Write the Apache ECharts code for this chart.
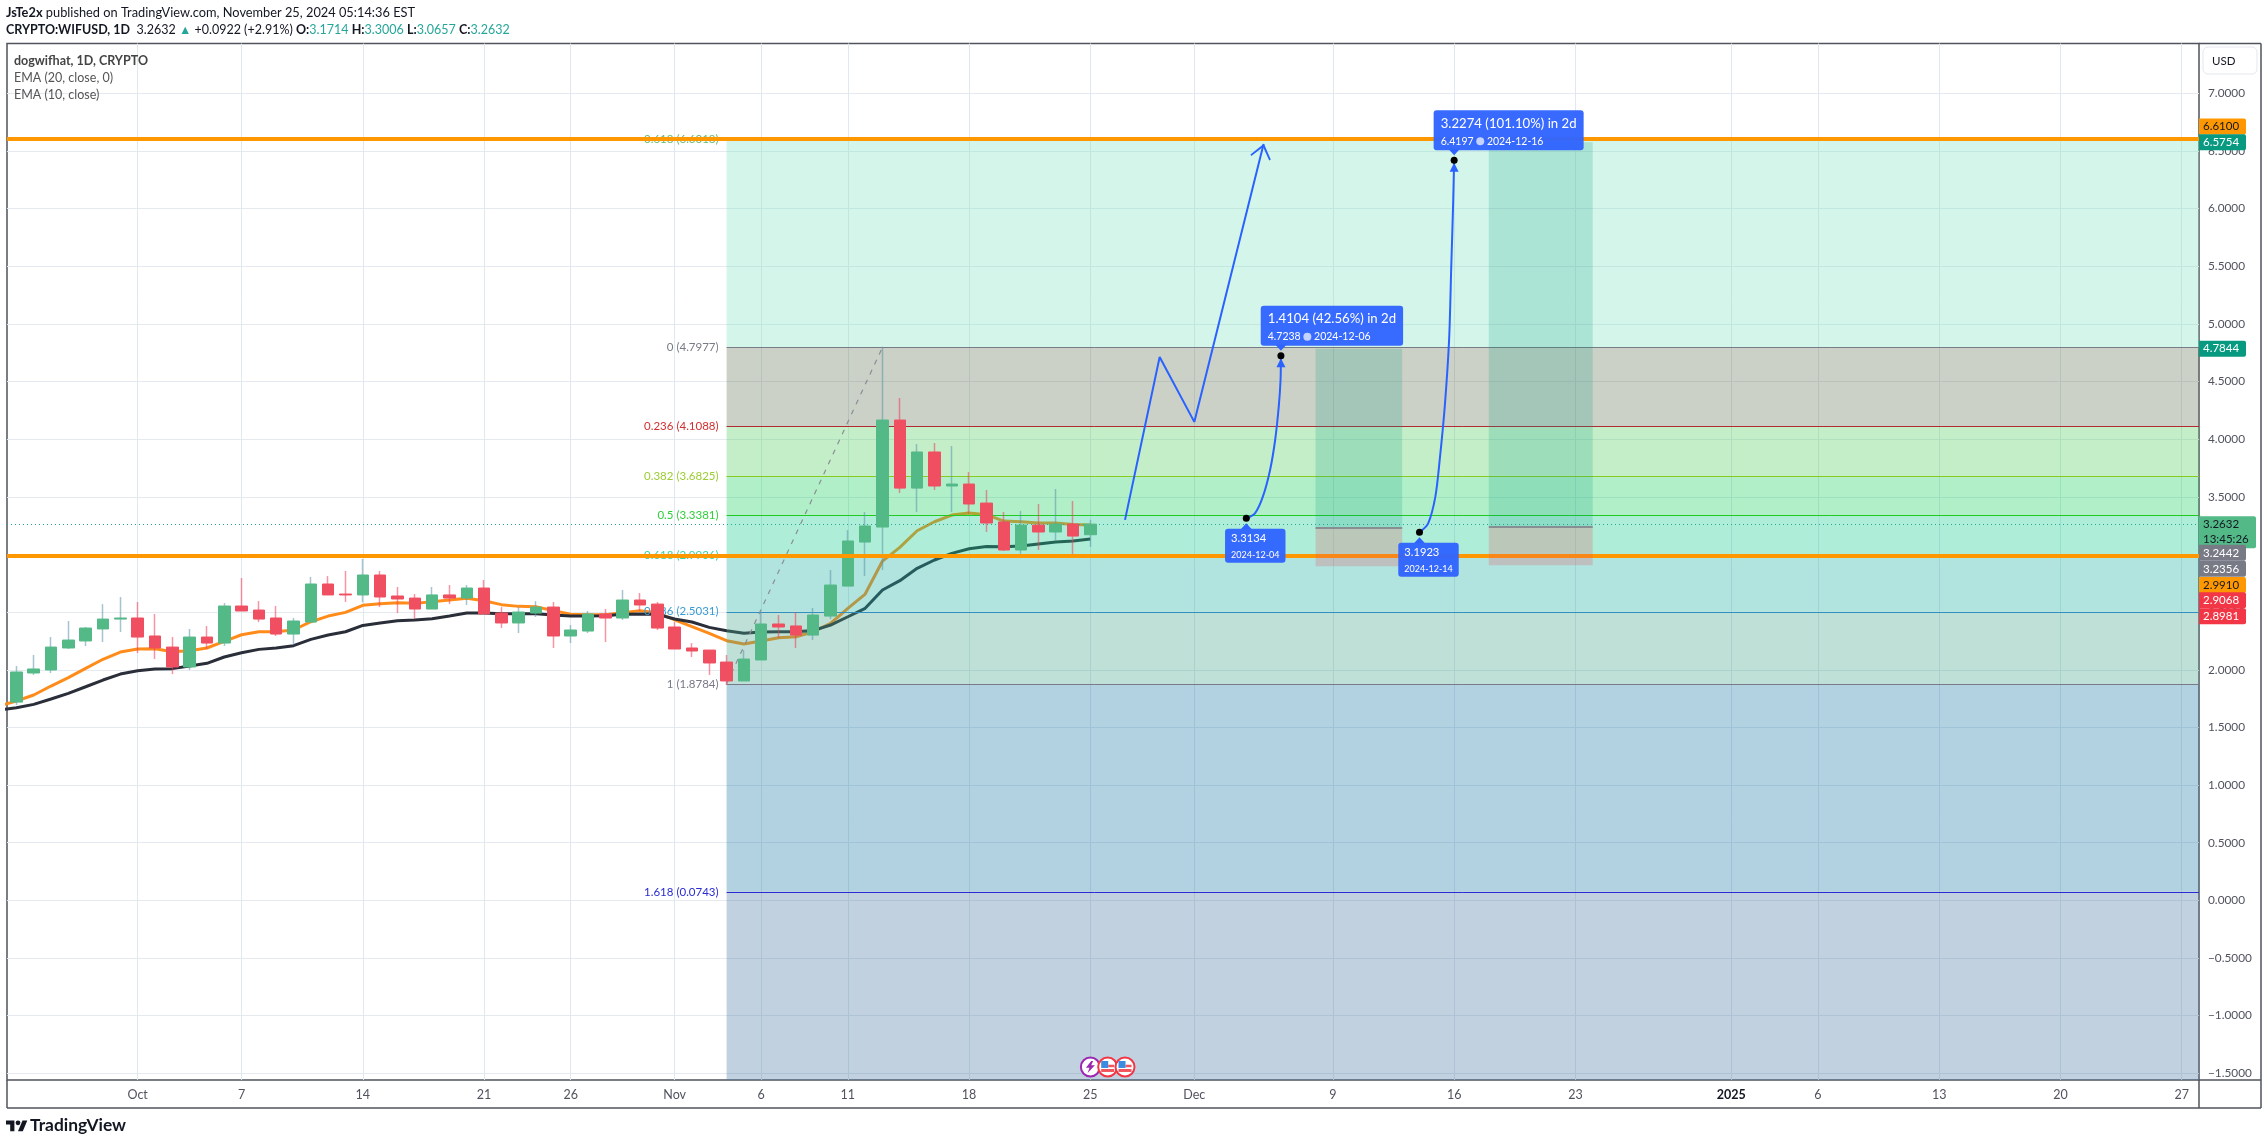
<!DOCTYPE html>
<html>
<head>
<meta charset="utf-8">
<title>WIFUSD 1D</title>
<script src="https://cdn.jsdelivr.net/npm/echarts@6/dist/echarts.min.js"></script>
<style>
html,body{margin:0;padding:0;background:#fff;}
#main{width:2268px;height:1145px;}
</style>
</head>
<body>
<div id="main"></div>
<script>
// candles, daily from 2024-09-24
var candleStart = [2024, 8, 24];
var opens = [1.720,1.972,1.998,2.189,2.250,2.354,2.440,
  2.449,2.293,2.197,2.024,2.284,2.232,2.553,2.518,2.449,2.310,2.414,2.744,2.657,2.649,2.822,2.640,2.622,2.527,2.649,2.622,2.709,2.492,2.406,2.492,2.544,2.293,2.336,2.484,2.449,2.605,2.570,
  2.371,2.189,2.171,2.067,1.903,2.085,2.397,2.380,2.301,2.466,2.726,3.108,3.238,4.166,3.576,3.889,3.594,3.611,3.446,3.282,3.039,3.255,3.195,3.264,3.1714];
var closes = [1.981,2.007,2.197,2.258,2.362,2.440,2.449,
  2.284,2.189,2.024,2.284,2.232,2.553,2.510,2.440,2.310,2.423,2.744,2.649,2.649,2.822,2.631,2.614,2.527,2.649,2.622,2.709,2.484,2.406,2.501,2.544,2.293,2.345,2.484,2.449,2.605,2.562,2.362,
  2.180,2.163,2.059,1.903,2.093,2.397,2.371,2.301,2.475,2.735,3.117,3.247,4.166,3.576,3.889,3.594,3.611,3.438,3.273,3.039,3.255,3.195,3.264,3.160,3.2632];
var lows = [1.694,1.955,1.972,2.180,2.206,2.241,2.328,
  2.145,2.093,1.963,1.998,2.180,2.206,2.510,2.414,2.293,2.215,2.414,2.649,2.588,2.585,2.544,2.492,2.440,2.527,2.570,2.562,2.484,2.362,2.319,2.458,2.189,2.232,2.319,2.241,2.432,2.510,2.345,
  2.180,2.111,1.955,1.868,1.903,2.085,2.275,2.189,2.258,2.440,2.726,2.813,2.865,3.533,3.368,3.559,3.368,3.351,3.195,3.030,2.969,3.039,3.125,3.004,3.0657];
var highs = [2.033,2.128,2.284,2.423,2.371,2.570,2.631,
  2.588,2.484,2.284,2.354,2.380,2.579,2.796,2.596,2.553,2.449,2.805,2.813,2.857,2.961,2.857,2.718,2.657,2.718,2.735,2.735,2.779,2.544,2.544,2.596,2.588,2.388,2.510,2.527,2.692,2.666,2.588,
  2.414,2.232,2.171,2.128,2.171,2.501,2.475,2.501,2.536,2.865,3.212,3.368,4.802,4.357,3.958,3.967,3.941,3.715,3.559,3.368,3.377,3.438,3.568,3.464,3.3006];

// ema lines, these start one day earlier (2024-09-23)
var emaStart = [2024, 8, 23];
var emaFast = [1.686,1.729,1.781,1.859,1.932,2.012,2.091,2.154,
  2.180,2.183,2.157,2.166,2.189,2.247,2.304,2.330,2.330,2.345,2.417,2.466,2.498,2.559,2.573,2.582,2.576,2.591,2.605,2.620,2.599,2.565,2.550,2.547,2.513,2.481,2.478,2.478,2.495,2.513,2.495,
  2.432,2.374,2.316,2.252,2.223,2.250,2.278,2.287,2.330,2.403,2.533,2.657,2.943,3.062,3.206,3.284,3.342,3.360,3.345,3.290,3.284,3.273,3.273,3.261,3.255];
var emaSlow = [1.651,1.671,1.700,1.747,1.796,1.853,1.911,1.963,
  1.992,2.007,2.010,2.033,2.056,2.111,2.148,2.177,2.189,2.209,2.264,2.302,2.330,2.385,2.406,2.426,2.432,2.443,2.466,2.492,2.492,2.487,2.487,2.487,2.475,2.466,2.466,2.469,2.481,2.484,2.481,
  2.440,2.414,2.368,2.339,2.316,2.328,2.330,2.330,2.340,2.388,2.460,2.533,2.692,2.773,2.880,2.952,3.010,3.050,3.070,3.068,3.073,3.091,3.108,3.117,3.134];

// axis
var tickDates = ['2024-10-01','2024-10-07','2024-10-14','2024-10-21','2024-10-26','2024-11-01','2024-11-06','2024-11-11','2024-11-18','2024-11-25','2024-12-01','2024-12-09','2024-12-16','2024-12-23','2025-01-01','2025-01-06','2025-01-13','2025-01-20','2025-01-27'];
var tickLabels = ['Oct','7','14','21','26','Nov','6','11','18','25','Dec','9','16','23','{y|2025}','6','13','20','27'];
var priceTicks = [-1.5,-1,-0.5,0,0.5,1,1.5,2,2.5,3,3.5,4,4.5,5,5.5,6,6.5,7];

// fib retracement
var fibStart = '2024-11-04';
var fibRatios = [-0.618,0,0.236,0.382,0.5,0.618,0.786,1,1.618];
var fibPrices = [6.6018,4.7977,4.1088,3.6825,3.3381,2.9936,2.5031,1.8784,0.0743];
var fibLine = ['#66bb6a','#787b86','#b22833','#8cc91f','#1ecb1e','#26c6a0','#2f8fbf','#787b86','#2b2bd4'];
var fibText = ['#66bb6a','#787b86','#d32f2f','#9ccc32','#2fcf3c','#3ad29a','#3a9bd4','#787b86','#2b2bd4'];
var fibFill = ['rgba(132,226,192,.35)','rgba(107,124,92,.35)','rgba(84,206,98,.35)','rgba(29,209,98,.35)','rgba(24,206,144,.35)','rgba(32,178,164,.35)','rgba(69,166,138,.35)','rgba(35,124,169,.35)','rgba(78,124,166,.35)'];

// hand drawn
var zigDates = ['2024-11-27','2024-11-29','2024-12-01','2024-12-05'];
var zigPrices = [3.30,4.713,4.15,6.56];
var curve1Dates = ['2024-12-04','2024-12-04 12:00','2024-12-04 23:00','2024-12-05 09:00','2024-12-05 16:00','2024-12-05 21:00','2024-12-05 23:30','2024-12-06'];
var curve1Prices = [3.3134,3.357,3.502,3.733,3.993,4.282,4.513,4.7238];
var curve2Dates = ['2024-12-14','2024-12-14 12:00','2024-12-14 22:00','2024-12-15 04:00','2024-12-15 11:00','2024-12-15 17:00','2024-12-15 20:00','2024-12-15 22:30','2024-12-16'];
var curve2Prices = [3.1923,3.270,3.502,3.820,4.282,4.860,5.496,6.017,6.4197];
var curve1Top = '1.4104 (42.56%) in 2d', curve2Top = '3.2274 (101.10%) in 2d';

// long position boxes
var boxStart = ['2024-12-08','2024-12-18'];
var boxEnd = ['2024-12-13','2024-12-24'];
var boxTarget = [4.7844,6.5754];
var boxEntry = [3.2356,3.2442];
var boxStop = [2.8981,2.9068];

var hLevels = [6.61,2.991];
var lastPrice = 3.2632;
var tagPrices = [6.61,6.5754,4.7844,3.2632,3.2442,3.2356,2.991,2.9068,2.8981];
var eventDates = ['2024-11-25','2024-11-26','2024-11-27'];

var t = function (s) { return +echarts.number.parseDate(s); };
var xMin = t('2024-09-23 11:00'), xMax = t('2025-01-28');
var yMin = -1.558, yMax = 7.432;
var eventLevel = -1.445;

var wicks = [], bodies = [], i;
for (i = 0; i < opens.length; i++) {
  var d = +new Date(candleStart[0], candleStart[1], candleStart[2] + i);
  wicks.push([d, opens[i], closes[i], lows[i], highs[i]]);
  bodies.push([d, opens[i], closes[i], Math.min(opens[i], closes[i]), Math.max(opens[i], closes[i])]);
}
function emaPoints(arr) {
  return arr.map(function (v, n) { return [+new Date(emaStart[0], emaStart[1], emaStart[2] + n), v]; });
}
function pts(dates, prices) {
  return dates.map(function (s, n) { return [t(s), prices[n]]; });
}

var labelMap = {};
tickDates.forEach(function (s, n) { labelMap[t(s)] = tickLabels[n]; });
var tickTimes = tickDates.map(t);

// fib zones and lines
var fibAreas = [], fibMarks = [];
fibPrices.forEach(function (p, n) {
  var low = n + 1 < fibPrices.length ? fibPrices[n + 1] : yMin;
  fibAreas.push([{ coord: [t(fibStart), p], itemStyle: { color: fibFill[n] } }, { coord: [xMax, low] }]);
  fibMarks.push([{
    coord: [t(fibStart), p],
    lineStyle: { color: fibLine[n], width: 1, type: 'solid' },
    label: { show: true, position: 'start', distance: 8, color: fibText[n], fontSize: 11.5, fontFamily: 'Lato',
      formatter: fibRatios[n] + ' (' + p.toFixed(4) + ')' }
  }, { coord: [xMax, p] }]);
});

// position boxes
var boxAreas = [], boxLines = [];
boxStart.forEach(function (s, n) {
  boxAreas.push([{ coord: [t(s), boxTarget[n]], itemStyle: { color: 'rgba(8,153,129,.2)' } }, { coord: [t(boxEnd[n]), boxEntry[n]] }]);
  boxAreas.push([{ coord: [t(s), boxEntry[n]], itemStyle: { color: 'rgba(229,84,91,.25)' } }, { coord: [t(boxEnd[n]), boxStop[n]] }]);
  boxLines.push([{ coord: [t(s), boxEntry[n]] }, { coord: [t(boxEnd[n]), boxEntry[n]] }]);
});

var calloutRich = {
  a: { color: '#fff', fontSize: 13.2, fontFamily: 'Lato', lineHeight: 21, align: 'left' },
  b: { color: '#fff', fontSize: 10.5, fontFamily: 'Lato', lineHeight: 14, align: 'left' },
  a2: { color: '#fff', fontSize: 11.2, fontFamily: 'Lato', lineHeight: 18, align: 'left' },
  b2: { color: '#fff', fontSize: 9, fontFamily: 'Lato', lineHeight: 14, align: 'left' },
  clock: { width: 8, height: 8, borderRadius: 4, backgroundColor: '#c3d2ff', fontSize: 6, align: 'left' }
};
function callout(date, price, text, offset, pad) {
  return {
    value: [t(date), price],
    label: {
      show: true, position: offset[1] < 0 ? 'top' : 'bottom', offset: offset, distance: 0,
      backgroundColor: 'rgba(48,100,255,.96)', borderRadius: 3, padding: pad,
      formatter: text, rich: calloutRich, align: 'center'
    }
  };
}

var tagStyles = [
  { bg: '#ff9800', fg: '#131722', dy: -11.7 }, { bg: '#089981', fg: '#fff', dy: 0 }, { bg: '#089981', fg: '#fff', dy: 0 },
  { bg: '#53b987', fg: '#131722', dy: 8, extra: '13:45:26', w: 53 },
  { bg: '#787b86', fg: '#fff', dy: 26.5 }, { bg: '#787b86', fg: '#fff', dy: 41.5 },
  { bg: '#ff9800', fg: '#131722', dy: 29.5 },
  { bg: '#f23645', fg: '#fff', dy: 35 }, { bg: '#f23645', fg: '#fff', dy: 50 }
];
var tagData = tagPrices.map(function (p, n) {
  var st = tagStyles[n];
  return {
    value: [xMax, p],
    label: {
      show: true, position: 'right', distance: 0, offset: [0, st.dy],
      backgroundColor: st.bg, color: st.fg, borderRadius: [0, 2, 2, 0],
      width: st.w || 43, padding: [st.extra ? 1 : 2, 0, st.extra ? 1 : 2, 4], lineHeight: st.extra ? 15 : 12,
      fontSize: 11.5, fontFamily: 'Lato', align: 'left',
      formatter: p.toFixed(4) + (st.extra ? '\n' + st.extra : '')
    }
  };
});

var chart = echarts.init(document.getElementById('main'), null, { renderer: 'canvas' });
chart.setOption({
  animation: false,
  backgroundColor: '#fff',
  title: [
    { left: 6, top: 6, padding: 0, text: '{b|JsTe2x} published on TradingView.com, November 25, 2024 05:14:36 EST',
      textStyle: { color: '#131722', fontSize: 12.8, fontWeight: 'normal', fontFamily: 'Lato', rich: { b: { fontWeight: 'bold', fontSize: 12.8, fontFamily: 'Lato', color: '#131722' } } } },
    { left: 6, top: 23, padding: 0, text: '{b|CRYPTO:WIFUSD, 1D}  3.2632 {g|▲} +0.0922 (+2.91%) {b|O:}{g|3.1714} {b|H:}{g|3.3006} {b|L:}{g|3.0657} {b|C:}{g|3.2632}',
      textStyle: { color: '#131722', fontSize: 12.5, fontWeight: 'normal', fontFamily: 'Lato', rich: {
        b: { fontWeight: 'bold', fontSize: 12.5, fontFamily: 'Lato', color: '#131722' },
        g: { color: '#26a69a', fontSize: 12.5, fontFamily: 'Lato' } } } },
    { left: 14, top: 54, padding: 0, text: 'dogwifhat, 1D, CRYPTO', textStyle: { color: '#444', fontSize: 12.5, fontWeight: 'bold', fontFamily: 'Lato' } },
    { left: 14, top: 71, padding: 0, text: 'EMA (20, close, 0)', textStyle: { color: '#555', fontSize: 12.5, fontWeight: 'normal', fontFamily: 'Lato' } },
    { left: 14, top: 88, padding: 0, text: 'EMA (10, close)', textStyle: { color: '#555', fontSize: 12.5, fontWeight: 'normal', fontFamily: 'Lato' } }
  ],
  grid: { left: 7, top: 43.5, width: 2192, height: 1036.5, show: true, borderColor: '#50535e', borderWidth: 1.5, backgroundColor: 'transparent' },
  xAxis: {
    type: 'value', min: xMin, max: xMax,
    axisLine: { show: false },
    axisTick: { show: false, customValues: tickTimes },
    splitLine: { show: true, lineStyle: { color: '#e0e8ef', width: 1 } },
    axisLabel: {
      customValues: tickTimes, margin: 8, color: '#50535e', fontSize: 12.5, fontFamily: 'Lato', hideOverlap: false,
      formatter: function (v) { return labelMap[v] || ''; },
      rich: { y: { fontWeight: 'bold', color: '#131722', fontSize: 12.5, fontFamily: 'Lato' } }
    }
  },
  yAxis: {
    type: 'value', position: 'right', min: yMin, max: yMax, scale: true,
    axisLine: { show: false },
    axisTick: { show: false, customValues: priceTicks },
    splitLine: { show: true, lineStyle: { color: '#e4eaf0', width: 1 } },
    axisLabel: {
      customValues: priceTicks, margin: 9, color: '#50535e', fontSize: 11.8, fontFamily: 'Lato',
      formatter: function (v) { return v.toFixed(4).replace('-', '−'); }
    }
  },
  graphic: [
    // outer frame of the chart, axis strip on the right and below
    { type: 'line', silent: true, z: 20, shape: { x1: 2199, y1: 43.5, x2: 2261, y2: 43.5 }, style: { stroke: '#50535e', lineWidth: 1.5 } },
    { type: 'line', silent: true, z: 20, shape: { x1: 2261, y1: 43.5, x2: 2261, y2: 1108 }, style: { stroke: '#50535e', lineWidth: 1.5 } },
    { type: 'line', silent: true, z: 20, shape: { x1: 2199, y1: 1080, x2: 2261, y2: 1080 }, style: { stroke: '#50535e', lineWidth: 1.5 } },
    { type: 'line', silent: true, z: 20, shape: { x1: 2199, y1: 1080, x2: 2199, y2: 1108 }, style: { stroke: '#50535e', lineWidth: 1.5 } },
    { type: 'line', silent: true, z: 20, shape: { x1: 7, y1: 1080, x2: 7, y2: 1108 }, style: { stroke: '#50535e', lineWidth: 1.5 } },
    { type: 'line', silent: true, z: 20, shape: { x1: 7, y1: 1108, x2: 2261, y2: 1108 }, style: { stroke: '#50535e', lineWidth: 1.5 } },
    // USD button
    { type: 'rect', silent: true, z: 20, shape: { x: 2203, y: 47, width: 54, height: 27, r: 5 }, style: { fill: '#fff', stroke: '#e4e7ef', lineWidth: 1 } },
    { type: 'text', silent: true, z: 21, style: { x: 2212, y: 55, text: 'USD', fill: '#131722', font: '11.5px Lato' } },
    // TradingView logo
    { type: 'polygon', silent: true, z: 20, shape: { points: [[14.4,1131.2],[10.2,1131.2],[10.2,1124.6],[6,1124.6],[6,1120.4],[14.4,1120.4]] }, style: { fill: '#131722' } },
    { type: 'polygon', silent: true, z: 20, shape: { points: [[22.8,1131.2],[18,1131.2],[22.5,1120.4],[27.3,1120.4]] }, style: { fill: '#131722' } },
    { type: 'circle', silent: true, z: 20, shape: { cx: 18, cy: 1122.8, r: 2.4 }, style: { fill: '#131722' } },
    { type: 'text', silent: true, z: 20, style: { x: 30, y: 1117, text: 'TradingView', fill: '#131722', font: 'bold 17.4px Lato' } }
  ],
  series: [
    { name: 'EMA fast', type: 'line', z: 2, data: emaPoints(emaFast), showSymbol: false, clip: true, silent: true,
      lineStyle: { color: '#ff8c1a', width: 3 } },
    { name: 'EMA slow', type: 'line', z: 2, data: emaPoints(emaSlow), showSymbol: false, clip: true, silent: true,
      lineStyle: { color: '#2a2e39', width: 3 } },

    // fib zones + levels
    { name: 'fib', type: 'line', z: 3, data: [], silent: true,
      markArea: { silent: true, z: 3, data: fibAreas },
      markLine: { silent: true, z: 3, symbol: 'none', data: fibMarks } },
    { name: 'last', type: 'line', z: 3, data: [], silent: true,
      markLine: { silent: true, z: 3, symbol: 'none', label: { show: false },
        lineStyle: { color: '#26a69a', type: [1, 3], width: 1 },
        data: [[{ coord: [xMin, lastPrice] }, { coord: [xMax, lastPrice] }]] } },
    { name: 'fib trend', type: 'line', z: 3, data: [[t(fibStart), fibPrices[7]], [t('2024-11-13'), fibPrices[1]]], showSymbol: false, silent: true,
      lineStyle: { color: '#8a8d96', type: [5, 6], width: 1.2 } },

    // candles: thin translucent wicks below, opaque bodies above
    { name: 'wicks', type: 'candlestick', z: 4, barWidth: 1, data: wicks, silent: true,
      itemStyle: { color: 'transparent', color0: 'transparent', borderColor: 'rgba(90,150,170,.55)', borderColor0: 'rgba(240,60,90,.55)', borderWidth: 1.5 } },
    { name: 'bodies', type: 'candlestick', z: 5, barWidth: 12, data: bodies, silent: true,
      itemStyle: { color: '#53b987', color0: '#ef4f60', borderColor: '#53b987', borderColor0: '#ef4f60', borderWidth: 1 } },

    // orange support / resistance
    { name: 'levels', type: 'line', z: 6, data: [], silent: true,
      markLine: { silent: true, z: 6, symbol: 'none', label: { show: false },
        lineStyle: { color: '#ff9800', width: 4, type: 'solid' },
        data: hLevels.map(function (p) { return [{ coord: [xMin, p] }, { coord: [xMax, p] }]; }) } },

    // long position boxes
    { name: 'boxes', type: 'line', z: 7, data: [], silent: true,
      markArea: { silent: true, z: 7, data: boxAreas },
      markLine: { silent: true, z: 7, symbol: 'none', label: { show: false },
        lineStyle: { color: '#787b86', width: 1.5, type: 'solid' }, data: boxLines } },

    // drawings
    { name: 'zigzag', type: 'line', z: 8, data: pts(zigDates, zigPrices), showSymbol: false, silent: true,
      lineStyle: { color: '#2962ff', width: 2 } },
    { name: 'zig arrow', type: 'scatter', z: 8, silent: true, data: [[t(zigDates[3]), zigPrices[3]]],
      symbol: 'path://M0 0 L10 12 L8.8 13.2 L0 3 L-8.8 13.2 L-10 12 Z', symbolSize: [21, 15], symbolKeepAspect: false,
      symbolRotate: -14, symbolOffset: [-1.5, 7], itemStyle: { color: '#2962ff', opacity: 1 } },
    { name: 'curve 1', type: 'line', z: 8, smooth: 0.3, data: pts(curve1Dates, curve1Prices), showSymbol: false, silent: true,
      lineStyle: { color: '#2962ff', width: 2 } },
    { name: 'curve 2', type: 'line', z: 8, smooth: 0.3, data: pts(curve2Dates, curve2Prices), showSymbol: false, silent: true,
      lineStyle: { color: '#2962ff', width: 2 } },
    { name: 'curve heads', type: 'scatter', z: 8, silent: true, symbol: 'triangle', symbolSize: [9, 9], symbolOffset: [0, 7],
      data: [[t(curve1Dates[7]), curve1Prices[7]], [t(curve2Dates[8]), curve2Prices[8]]], itemStyle: { color: '#2962ff', opacity: 1 } },

    // callout tips, dots, callouts
    { name: 'tips up', type: 'scatter', z: 9, silent: true, symbol: 'triangle', symbolSize: [11, 6], symbolOffset: [0, 8],
      data: [[t(curve1Dates[0]), curve1Prices[0]], [t(curve2Dates[0]), curve2Prices[0]]], itemStyle: { color: '#3064ff', opacity: 1 } },
    { name: 'tips down', type: 'scatter', z: 9, silent: true, symbol: 'triangle', symbolRotate: 180, symbolSize: [11, 6], symbolOffset: [0, -8],
      data: [[t(curve1Dates[7]), curve1Prices[7]], [t(curve2Dates[8]), curve2Prices[8]]], itemStyle: { color: '#3064ff', opacity: 1 } },
    { name: 'dots', type: 'scatter', z: 10, silent: true, symbolSize: 7,
      itemStyle: { color: '#000', opacity: 1 },
      data: [
        callout(curve1Dates[0], curve1Prices[0], '{a2|' + curve1Prices[0].toFixed(4) + '}\n{b2|2024-12-04}', [9, 7], [1, 6, 1, 6]),
        callout(curve1Dates[7], curve1Prices[7], '{a|' + curve1Top + '}\n{b|' + curve1Prices[7].toFixed(4) + ' }{clock| }{b| 2024-12-06}', [51, -6.5], [3, 7, 2, 7]),
        callout(curve2Dates[0], curve2Prices[0], '{a2|' + curve2Prices[0].toFixed(4) + '}\n{b2|2024-12-14}', [9, 7], [1, 6, 1, 6]),
        callout(curve2Dates[8], curve2Prices[8], '{a|' + curve2Top + '}\n{b|' + curve2Prices[8].toFixed(4) + ' }{clock| }{b| 2024-12-16}', [54.5, -6.5], [3, 7, 2, 7])
      ] },

    // economic event bubbles
    { name: 'events', type: 'scatter', z: 11, silent: true, symbolSize: 19,
      data: eventDates.map(function (s, n) {
        return { value: [t(s), eventLevel], itemStyle: { color: '#fff', borderColor: n ? '#f23645' : '#9c27b0', borderWidth: 2, opacity: 1 } };
      }) },
    { name: 'event bolt', type: 'scatter', z: 12, silent: true, symbol: 'path://M6 0 L0 8 L4 8 L2 14 L10 5 L6 5 L8 0 Z', symbolSize: [9, 12],
      data: [[t(eventDates[0]), eventLevel]], itemStyle: { color: '#9c27b0', opacity: 1 } },
    { name: 'flag red', type: 'scatter', z: 12, silent: true, symbol: 'rect', symbolSize: [13, 3], symbolOffset: [0, 3.5],
      data: [[t(eventDates[1]), eventLevel], [t(eventDates[2]), eventLevel]], itemStyle: { color: '#f2545b', opacity: 1 } },
    { name: 'flag red 2', type: 'scatter', z: 12, silent: true, symbol: 'rect', symbolSize: [6, 2.5], symbolOffset: [3.5, -1],
      data: [[t(eventDates[1]), eventLevel], [t(eventDates[2]), eventLevel]], itemStyle: { color: '#f2545b', opacity: 1 } },
    { name: 'flag blue', type: 'scatter', z: 12, silent: true, symbol: 'rect', symbolSize: [7, 7], symbolOffset: [-3, -2.5],
      data: [[t(eventDates[1]), eventLevel], [t(eventDates[2]), eventLevel]], itemStyle: { color: '#3d8be0', opacity: 1 } },

    // price tags on the scale
    { name: 'tags', type: 'scatter', z: 15, silent: true, clip: false, symbolSize: 0, itemStyle: { opacity: 1 }, data: tagData }
  ]
});
</script>
</body>
</html>
